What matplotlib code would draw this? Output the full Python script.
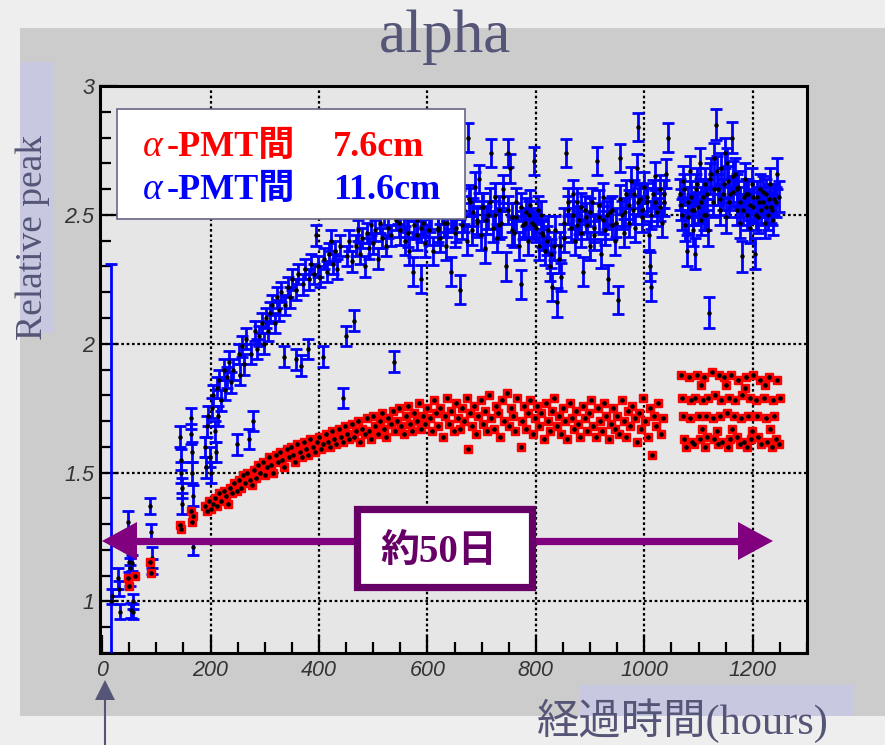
import matplotlib
matplotlib.use("Agg")
import matplotlib.pyplot as plt
from matplotlib.patches import Rectangle, Polygon
from matplotlib.lines import Line2D
from matplotlib.ticker import MultipleLocator

plt.rcParams['font.family'] = ['Liberation Serif', 'Noto Sans CJK JP', 'DejaVu Sans']

# ---------------- data ----------------
blue_hours_early = [17, 18, 30, 31, 32, 48, 50, 51, 52, 53, 55, 56, 57, 89, 90, 91, 92,
                    144, 145, 146, 147, 148, 163, 164, 165, 166, 167, 168]
blue_peak_early = [1.00, 1.02, 1.09, 1.05, 0.96, 1.31, 1.155, 1.13, 1.10, 0.965, 1.15, 1.00, 0.96,
                   1.37, 1.27, 1.17, 1.135, 1.64, 1.55, 1.50, 1.44, 1.38, 1.71, 1.65, 1.58, 1.50, 1.41, 1.21]
blue_err_early = [1.31, 0.03, 0.04, 0.03, 0.03, 0.04, 0.04, 0.04, 0.04, 0.03, 0.03, 0.03, 0.03,
                  0.03, 0.03, 0.04, 0.03, 0.04, 0.04, 0.04, 0.04, 0.04, 0.04, 0.04, 0.04, 0.04, 0.04, 0.03]

blue_hours_rise = [190, 192, 194, 196, 198, 200, 203, 205, 208, 210,
                   212, 214, 216, 220, 224, 227, 230, 234, 238, 242,
                   248, 252, 255, 258, 262, 266, 270, 274, 279, 282,
                   286, 290, 294, 298, 302, 306, 310, 314, 318, 322,
                   326, 330, 335, 338, 342, 346, 350, 357, 358, 362,
                   366, 370, 374, 379, 382, 386, 390, 394, 398, 402,
                   408, 410, 414, 418, 422, 426, 430, 434, 438, 445,
                   449, 452, 456, 460, 464, 468, 472, 476, 480, 484,
                   488, 492, 496, 500, 504, 508, 512, 516, 520, 524,
                   528, 532, 538, 542]
blue_peak_rise = [1.60, 1.52, 1.68, 1.72, 1.56, 1.50, 1.75, 1.80, 1.66, 1.58,
                  1.83, 1.72, 1.86, 1.78, 1.90, 1.82, 1.87, 1.93, 1.85, 1.90,
                  1.61, 1.96, 1.88, 1.99, 1.92, 2.02, 1.63, 1.96, 1.70, 2.05,
                  1.98, 2.03, 2.08, 2.00, 2.10, 2.05, 2.12, 2.15, 2.08, 2.18,
                  2.13, 2.20, 1.95, 2.15, 2.22, 2.18, 2.25, 1.94, 2.21, 2.27,
                  1.915, 2.23, 2.29, 1.98, 2.25, 2.31, 2.27, 2.42, 2.30, 2.26,
                  1.95, 2.33, 2.28, 2.35, 2.40, 2.31, 2.36, 2.29, 2.38, 1.79,
                  2.03, 2.34, 2.40, 2.32, 2.09, 2.38, 2.44, 2.35, 2.41, 2.30,
                  2.43, 2.37, 2.46, 2.39, 2.44, 2.33, 2.47, 2.41, 2.50, 2.38,
                  2.45, 2.42, 1.93, 2.48]
blue_err_rise = 0.04

blue_hours_plateau = [546, 550, 554, 558, 562, 566, 570, 573, 576, 580,
                      584, 588, 591, 595, 599, 603, 607, 611, 615, 619,
                      623, 627, 631, 635, 639, 643, 647, 651, 655, 660,
                      664, 668, 672, 675, 679, 683, 687, 691, 695, 699,
                      703, 707, 711, 717, 720, 724, 728, 732, 736, 740,
                      745, 748, 752, 756, 760, 764, 768, 773, 777, 781,
                      785, 789, 793, 797, 801, 805, 809, 813, 817, 822,
                      826, 830, 834, 838, 842, 847, 851, 856, 860, 864,
                      868, 872, 876, 880, 884, 887, 891, 895, 899, 903,
                      908, 912, 916, 920, 924, 928, 933, 937, 941, 945,
                      951, 955, 959, 963, 967, 971, 975, 979, 983, 986,
                      989, 992, 996, 1000, 1004, 1008, 1010, 1013, 1016, 1020,
                      1024, 1028, 1032, 1036, 1040, 1044]
blue_peak_plateau = [2.52, 2.44, 2.55, 2.40, 2.49, 2.36, 2.58, 2.28, 2.46, 2.42,
                     2.53, 2.25, 2.47, 2.39, 2.56, 2.44, 2.50, 2.36, 2.60, 2.45,
                     2.41, 2.52, 2.47, 2.38, 2.55, 2.28, 2.49, 2.43, 2.58, 2.21,
                     2.46, 2.52, 2.40, 2.80, 2.55, 2.44, 2.61, 2.48, 2.64, 2.42,
                     2.53, 2.37, 2.50, 2.74, 2.45, 2.57, 2.41, 2.52, 2.47, 2.60,
                     2.30, 2.74, 2.68, 2.49, 2.43, 2.55, 2.38, 2.23, 2.46, 2.51,
                     2.40, 2.54, 2.47, 2.71, 2.45, 2.38, 2.50, 2.42, 2.36, 2.44,
                     2.30, 2.22, 2.38, 2.16, 2.33, 2.26, 2.41, 2.74, 2.52, 2.45,
                     2.58, 2.40, 2.55, 2.48, 2.43, 2.28, 2.52, 2.46, 2.38, 2.55,
                     2.42, 2.71, 2.49, 2.35, 2.57, 2.44, 2.25, 2.51, 2.46, 2.40,
                     2.17, 2.72, 2.50, 2.43, 2.58, 2.47, 2.63, 2.52, 2.45, 2.68,
                     2.84, 2.56, 2.49, 2.61, 2.55, 2.42, 2.30, 2.22, 2.58, 2.65,
                     2.51, 2.60, 2.47, 2.55, 2.66, 2.80]
blue_hours_plateau_b = [548, 556, 564, 572, 580, 588, 596, 604, 612, 620,
                        628, 636, 644, 652, 660, 668, 676, 684, 692, 700,
                        708, 716, 724, 732, 740, 748, 756, 764, 772, 780,
                        788, 796, 804, 812, 820, 828, 836, 844, 852, 860,
                        868, 876, 884, 892, 900, 908, 916, 924, 932, 940,
                        948, 956, 964, 972, 980, 988, 996, 1004, 1012, 1020,
                        1028, 1036]
blue_peak_plateau_b = [2.47, 2.50, 2.43, 2.53, 2.48, 2.45, 2.51, 2.49, 2.55, 2.44,
                       2.52, 2.47, 2.50, 2.45, 2.54, 2.49, 2.56, 2.51, 2.47, 2.53,
                       2.48, 2.55, 2.50, 2.46, 2.57, 2.52, 2.44, 2.49, 2.53, 2.47,
                       2.50, 2.46, 2.52, 2.43, 2.40, 2.35, 2.44, 2.38, 2.47, 2.55,
                       2.50, 2.46, 2.53, 2.49, 2.51, 2.45, 2.54, 2.48, 2.50, 2.52,
                       2.47, 2.56, 2.51, 2.54, 2.58, 2.55, 2.52, 2.57, 2.50, 2.55,
                       2.53, 2.58]
blue_err_plateau = 0.055

blue_hours_late = [1066, 1069, 1072, 1075, 1078, 1081, 1084, 1087, 1090, 1093,
                   1096, 1099, 1102, 1105, 1108, 1111, 1114, 1117, 1120, 1123,
                   1126, 1129, 1133, 1136, 1139, 1142, 1145, 1148, 1151, 1154,
                   1157, 1161, 1164, 1167, 1170, 1173, 1176, 1180, 1183, 1186,
                   1189, 1192, 1195, 1198, 1201, 1204, 1207, 1210, 1213, 1216,
                   1219, 1222, 1225, 1228, 1231, 1234, 1237, 1240, 1244, 1248]
blue_peak_late = [2.58, 2.50, 2.63, 2.46, 2.36, 2.55, 2.67, 2.52, 2.44, 2.35,
                  2.60, 2.53, 2.70, 2.48, 2.57, 2.62, 2.50, 2.44, 2.12, 2.66,
                  2.55, 2.72, 2.85, 2.60, 2.52, 2.68, 2.58, 2.74, 2.49, 2.63,
                  2.55, 2.80, 2.59, 2.66, 2.52, 2.61, 2.47, 2.34, 2.57, 2.64,
                  2.50, 2.58, 2.45, 2.62, 2.53, 2.35, 2.57, 2.49, 2.60, 2.52,
                  2.55, 2.47, 2.58, 2.50, 2.62, 2.53, 2.48, 2.56, 2.66, 2.57]
blue_hours_late_b = [1068, 1074, 1080, 1086, 1092, 1098, 1104, 1110, 1116, 1122,
                     1128, 1134, 1140, 1146, 1152, 1158, 1164, 1170, 1176, 1182,
                     1188, 1194, 1200, 1206, 1212, 1218, 1224, 1230, 1236, 1242]
blue_peak_late_b = [2.54, 2.60, 2.49, 2.57, 2.52, 2.62, 2.55, 2.50, 2.58, 2.64,
                    2.60, 2.67, 2.56, 2.62, 2.70, 2.58, 2.65, 2.60, 2.55, 2.52,
                    2.58, 2.54, 2.57, 2.50, 2.55, 2.59, 2.53, 2.56, 2.52, 2.55]
blue_err_late = 0.06

red_hours_early = [48, 50, 61, 89, 90, 144, 146, 163, 165, 167]
red_peak_early = [1.09, 1.06, 1.10, 1.155, 1.11, 1.295, 1.28, 1.35, 1.31, 1.33]

red_hours_rise = [190, 193, 197, 200, 204, 208, 212, 216, 220, 224,
                  228, 232, 236, 240, 244, 248, 252, 256, 260, 264,
                  268, 272, 276, 280, 284, 288, 292, 296, 300, 304,
                  308, 312, 316, 320, 324, 328, 332, 336, 340, 344,
                  348, 352, 356, 360, 364, 368, 372, 376, 380, 384,
                  388, 392, 396, 400, 404, 408, 412, 416, 420, 424,
                  428, 432, 436, 440, 444, 448, 452, 456, 460, 464,
                  468, 472, 476, 480, 484, 488, 492, 496, 500, 504,
                  508, 512, 516, 520, 524, 528, 532, 536, 540, 544,
                  548, 552, 556, 560, 564, 568, 572, 576, 580, 584,
                  588, 592, 596, 600]
red_peak_rise = [1.37, 1.35, 1.39, 1.36, 1.38, 1.40, 1.37, 1.42, 1.39, 1.43,
                 1.41, 1.38, 1.44, 1.42, 1.46, 1.43, 1.47, 1.44, 1.49, 1.46,
                 1.50, 1.47, 1.45, 1.51, 1.48, 1.53, 1.50, 1.54, 1.49, 1.52,
                 1.56, 1.53, 1.50, 1.57, 1.54, 1.58, 1.55, 1.52, 1.59, 1.56,
                 1.60, 1.57, 1.54, 1.61, 1.58, 1.56, 1.62, 1.59, 1.57, 1.63,
                 1.60, 1.58, 1.62, 1.64, 1.59, 1.61, 1.65, 1.62, 1.60, 1.66,
                 1.63, 1.61, 1.67, 1.64, 1.62, 1.68, 1.65, 1.63, 1.69, 1.64,
                 1.66, 1.70, 1.62, 1.67, 1.65, 1.71, 1.66, 1.63, 1.72, 1.68,
                 1.65, 1.70, 1.73, 1.67, 1.64, 1.71, 1.69, 1.74, 1.66, 1.70,
                 1.75, 1.68, 1.65, 1.72, 1.76, 1.69, 1.66, 1.73, 1.70, 1.77,
                 1.67, 1.72, 1.69, 1.75]

red_hours_plateau = [604, 608, 612, 616, 620, 624, 628, 632, 636, 640,
                     644, 648, 652, 656, 660, 664, 668, 672, 675, 678,
                     682, 686, 690, 694, 698, 702, 706, 710, 714, 718,
                     722, 726, 730, 734, 738, 742, 746, 750, 754, 758,
                     762, 766, 772, 774, 778, 782, 786, 790, 794, 798,
                     802, 806, 810, 814, 818, 822, 826, 830, 834, 838,
                     842, 846, 850, 854, 858, 862, 866, 870, 874, 878,
                     882, 886, 890, 894, 898, 902, 906, 910, 914, 918,
                     922, 926, 930, 934, 938, 942, 946, 950, 954, 958,
                     962, 966, 970, 974, 978, 982, 986, 990, 994, 998,
                     1002, 1006, 1010, 1014, 1018, 1022, 1026, 1030, 1034]
red_peak_plateau = [1.71, 1.66, 1.78, 1.73, 1.68, 1.75, 1.64, 1.72, 1.79, 1.69,
                    1.74, 1.66, 1.77, 1.71, 1.67, 1.75, 1.70, 1.79, 1.59, 1.73,
                    1.68, 1.76, 1.65, 1.72, 1.78, 1.69, 1.74, 1.66, 1.80, 1.71,
                    1.67, 1.76, 1.73, 1.64, 1.78, 1.70, 1.81, 1.68, 1.75, 1.72,
                    1.66, 1.79, 1.60, 1.70, 1.76, 1.67, 1.73, 1.78, 1.65, 1.71,
                    1.76, 1.68, 1.73, 1.63, 1.77, 1.70, 1.66, 1.74, 1.79, 1.68,
                    1.72, 1.65, 1.75, 1.70, 1.63, 1.77, 1.71, 1.67, 1.74, 1.69,
                    1.64, 1.76, 1.71, 1.66, 1.73, 1.78, 1.68, 1.64, 1.75, 1.70,
                    1.66, 1.77, 1.72, 1.63, 1.69, 1.75, 1.67, 1.72, 1.65, 1.78,
                    1.70, 1.64, 1.74, 1.68, 1.76, 1.71, 1.62, 1.73, 1.67, 1.79,
                    1.70, 1.64, 1.75, 1.57, 1.72, 1.68, 1.77, 1.65, 1.71]

red_hours_late = [1068, 1082, 1098, 1110, 1124, 1138, 1146, 1160, 1172, 1188,
                  1200, 1214, 1230, 1244, 1104, 1150, 1185, 1222, 1070, 1086,
                  1094, 1108, 1118, 1130, 1142, 1156, 1168, 1180, 1194, 1206,
                  1220, 1238, 1250, 1072, 1084, 1100, 1114, 1126, 1140, 1152,
                  1166, 1178, 1192, 1208, 1224, 1240, 1106, 1134, 1162, 1198,
                  1232, 1074, 1088, 1102, 1116, 1128, 1144, 1158, 1170, 1184,
                  1196, 1210, 1226, 1242, 1076, 1092, 1112, 1136, 1154, 1176,
                  1190, 1216, 1236, 1248]
red_peak_late = [1.88, 1.87, 1.88, 1.87, 1.89, 1.88, 1.87, 1.88, 1.86, 1.87,
                 1.88, 1.86, 1.87, 1.86, 1.84, 1.84, 1.83, 1.84, 1.79, 1.78,
                 1.79, 1.78, 1.79, 1.80, 1.78, 1.79, 1.78, 1.80, 1.79, 1.78,
                 1.79, 1.78, 1.79, 1.72, 1.71, 1.72, 1.72, 1.71, 1.72, 1.73,
                 1.72, 1.71, 1.72, 1.72, 1.71, 1.72, 1.67, 1.66, 1.67, 1.66,
                 1.67, 1.63, 1.62, 1.63, 1.64, 1.63, 1.62, 1.63, 1.64, 1.62,
                 1.63, 1.64, 1.62, 1.63, 1.60, 1.61, 1.60, 1.61, 1.60, 1.61,
                 1.60, 1.61, 1.60, 1.61]

x_ticks = [0, 200, 400, 600, 800, 1000, 1200]
x_tick_labels = ['0', '200', '400', '600', '800', '1000', '1200']
y_ticks = [1.0, 1.5, 2.0, 2.5, 3.0]
y_tick_labels = ['1', '1.5', '2', '2.5', '3']

title_text = 'alpha'
ylabel_text = 'Relative peak'
xlabel_text = '経過時間(hours)'
legend_red = ('α', '-PMT間', '7.6cm')
legend_blue = ('α', '-PMT間', '11.6cm')
span_text = '約50日'

# ---------------- figure ----------------
W, H = 885, 745
fig = plt.figure(figsize=(W / 100, H / 100), dpi=100)
fig.patch.set_facecolor('#eeeeee')


def fx(x):
    return x / W


def fy(y):
    return 1 - y / H


def rect_px(x0, y0, x1, y1, **kw):
    return Rectangle((fx(x0), fy(y1)), fx(x1) - fx(x0), fy(y0) - fy(y1),
                     transform=fig.transFigure, **kw)


# slide panels
fig.add_artist(rect_px(20, 28, 885, 716, facecolor='#cccccc', edgecolor='none', zorder=-3))
fig.add_artist(rect_px(20, 62, 53, 333, facecolor='#c8c8e0', edgecolor='none', zorder=-2))
fig.add_artist(rect_px(580, 685, 853, 716, facecolor='#c8c8e0', edgecolor='none', zorder=-2))

ax = fig.add_axes([fx(100), fy(653), fx(807) - fx(100), fy(86) - fy(653)])
ax.set_facecolor('#e6e6e6')
ax.set_xlim(-4, 1300)
ax.set_ylim(0.8, 3.0)

# grid
for xv in x_ticks[1:]:
    ax.axvline(xv, color='black', lw=1.6, ls=(0, (1.2, 1.2)), zorder=1)
for yv in y_ticks[:-1]:
    ax.axhline(yv, color='black', lw=1.6, ls=(0, (1.2, 1.2)), zorder=1)

blue_kw = dict(fmt='none', ecolor='#0000ff', elinewidth=2.0, capsize=4.5, capthick=2.0, zorder=3)
blue_sets = [
    (blue_hours_early, blue_peak_early, blue_err_early),
    (blue_hours_rise, blue_peak_rise, blue_err_rise),
    (blue_hours_plateau, blue_peak_plateau, blue_err_plateau),
    (blue_hours_plateau_b, blue_peak_plateau_b, blue_err_plateau),
    (blue_hours_late, blue_peak_late, blue_err_late),
    (blue_hours_late_b, blue_peak_late_b, blue_err_late),
]
for hx, hy, he in blue_sets:
    ax.errorbar(hx, hy, yerr=he, **blue_kw)
for hx, hy, he in blue_sets:
    ax.plot(hx, hy, ls='none', marker='o', ms=2.2, color='black', zorder=4)

for hx, hy in [(red_hours_early, red_peak_early), (red_hours_rise, red_peak_rise),
               (red_hours_plateau, red_peak_plateau), (red_hours_late, red_peak_late)]:
    ax.plot(hx, hy, ls='none', marker='s', ms=6.0, color='#ff0000', mec='#ff0000', zorder=5)
    ax.plot(hx, hy, ls='none', marker='o', ms=2.3, color='black', zorder=6)

# axes styling
ax.set_xticks(x_ticks)
ax.set_xticklabels(x_tick_labels)
ax.set_yticks(y_ticks)
ax.set_yticklabels(y_tick_labels)
ax.xaxis.set_minor_locator(MultipleLocator(50))
ax.yaxis.set_minor_locator(MultipleLocator(0.1))
ax.tick_params(which='major', direction='in', length=13, width=1.6, color='black',
               top=False, right=False, pad=5)
ax.tick_params(which='minor', direction='in', length=8, width=1.6, color='black',
               top=False, right=False)
ax.tick_params(axis='y', which='major', pad=4)
for lbl in ax.get_xticklabels() + ax.get_yticklabels():
    lbl.set_fontfamily('Liberation Sans')
    lbl.set_fontstyle('italic')
    lbl.set_fontsize(15.5)
    lbl.set_color('#333333')
for sp in ax.spines.values():
    sp.set_linewidth(2.2)
    sp.set_color('black')

# legend box
fig.add_artist(rect_px(117, 109, 465, 219, facecolor='white', edgecolor='#666688',
                       linewidth=1.2, zorder=3))
for (a, mid, val), yb, col in [(legend_red, 156, '#ff0000'), (legend_blue, 199, '#0000ff')]:
    fig.text(fx(143), fy(yb), a, color=col, fontsize=27, style='italic',
             family=['Liberation Serif'], va='baseline', ha='left', zorder=4)
    fig.text(fx(167), fy(yb), mid, color=col, fontsize=26, fontweight='bold',
             family=['Liberation Serif', 'Noto Sans CJK JP'], va='baseline', ha='left', zorder=4)
    fig.text(fx(333), fy(yb), val, color=col, fontsize=26, fontweight='bold',
             family=['Liberation Serif'], va='baseline', ha='left', zorder=4)

# purple double arrow
purple = '#800080'
fig.add_artist(Line2D([fx(130), fx(745)], [fy(541), fy(541)], color=purple, lw=5.2,
                      transform=fig.transFigure, zorder=5, solid_capstyle='butt'))
fig.add_artist(Polygon([(fx(102), fy(541)), (fx(137), fy(522)), (fx(137), fy(560))],
                       closed=True, facecolor=purple, edgecolor='none',
                       transform=fig.transFigure, zorder=5))
fig.add_artist(Polygon([(fx(773), fy(541)), (fx(738), fy(522)), (fx(738), fy(560))],
                       closed=True, facecolor=purple, edgecolor='none',
                       transform=fig.transFigure, zorder=5))
fig.add_artist(rect_px(356.5, 508.5, 531.5, 586.5, facecolor='white', edgecolor='#660066',
                       linewidth=5.2, zorder=6))
fig.text(fx(439), fy(562), span_text, color='#660066', fontsize=28, fontweight='bold',
         family=['Liberation Serif', 'Noto Sans CJK JP'], ha='center', va='baseline', zorder=7)

# bottom arrow pointing to t = 0
slate = '#555577'
fig.add_artist(Line2D([fx(105), fx(105)], [fy(745), fy(699)], color=slate, lw=1.5,
                      transform=fig.transFigure, zorder=5))
fig.add_artist(Polygon([(fx(105), fy(680)), (fx(95), fy(700)), (fx(115), fy(700))],
                       closed=True, facecolor=slate, edgecolor='none',
                       transform=fig.transFigure, zorder=5))

# titles / labels
fig.text(fx(445), fy(52), title_text, color=slate, fontsize=44,
         family=['Liberation Serif'], ha='center', va='baseline')
fig.text(fx(33), fy(238), ylabel_text, color=slate, fontsize=27, rotation=90,
         family=['Liberation Serif'], ha='center', va='center')
fig.text(fx(537), fy(721), xlabel_text, color=slate, fontsize=30.5,
         family=['Liberation Serif', 'Noto Sans CJK JP'], ha='left', va='center')

fig.savefig('out.png', dpi=100, facecolor=fig.get_facecolor())
